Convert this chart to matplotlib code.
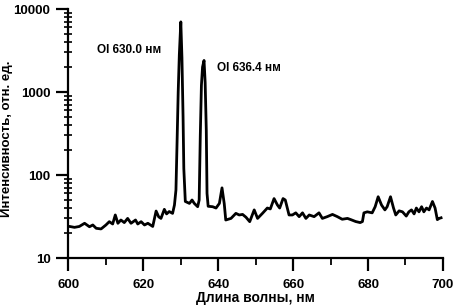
import numpy as np
import matplotlib
matplotlib.use('Agg')
from matplotlib import pyplot as plt
from matplotlib.ticker import LogLocator, FixedLocator, FuncFormatter, NullFormatter

# Спектр: длина волны (нм) и интенсивность (отн. ед.)
wl = [600.0, 600.3, 601.6, 602.9, 604.3, 605.6, 606.5, 607.4, 608.7, 610.0,
      610.9, 611.8, 612.5, 613.2, 614.0, 614.9, 615.8, 616.7, 617.9, 618.5,
      619.4, 620.3, 621.2, 622.5, 623.4, 624.1, 624.7, 625.6, 626.2, 626.9,
      627.8, 628.3, 628.7, 629.0, 629.3, 629.6, 630.0, 630.3, 630.6, 630.8,
      631.2, 632.3, 633.0, 633.6, 634.5, 634.9, 635.2, 635.5, 635.8, 636.2,
      636.5, 636.8, 637.0, 637.3, 638.5, 639.4, 640.3, 641.0, 641.6, 642.0,
      643.4, 644.7, 645.6, 646.5, 647.4, 648.4, 649.6, 650.5, 651.8, 653.1,
      653.9, 654.9, 655.8, 656.4, 657.3, 657.9, 658.9, 659.8, 660.7, 661.6,
      662.5, 663.4, 664.3, 665.6, 666.9, 667.8, 669.1, 670.5, 671.8, 673.1,
      674.5, 675.4, 676.7, 677.9, 678.5, 678.9, 679.8, 681.1, 681.9, 682.7,
      683.6, 684.5, 685.1, 686.0, 686.8, 687.4, 688.3, 689.2, 690.2, 690.9,
      691.6, 692.3, 692.9, 693.6, 694.3, 694.9, 695.6, 696.3, 697.2, 697.9,
      698.5, 699.0, 699.5]
intensity = [24, 24, 23.4, 24, 26.2, 23.8, 25, 22.8, 22.4, 25,
             27.4, 25.7, 33, 26.2, 28.7, 26.7, 30, 26.2, 28.7, 25.7,
             27.4, 25, 26.2, 24, 36.8, 31.3, 30, 38.6, 34, 36.3,
             34.5, 43.5, 66, 250, 1000, 2800, 7000, 2600, 500, 120,
             48, 45.5, 50, 45.5, 41.5, 50, 300, 1200, 2000, 2400,
             1300, 350, 60, 42, 41.5, 40, 45.5, 70, 45, 28.7,
             30, 34.5, 33, 33.5, 31, 27.4, 38, 30, 34.5, 40,
             39, 52, 43.5, 40, 52, 50, 33, 33, 35, 31.5,
             35, 30, 33, 31.5, 35, 30, 31.5, 33.5, 31.5, 29.3,
             30, 29, 27.5, 26.7, 27.5, 35, 36, 35, 41.5, 54.7,
             43.5, 38, 41.5, 54.7, 40, 33, 37, 36, 32, 36,
             38, 34, 40, 36, 41.5, 36, 40, 38, 48, 40,
             29, 30, 30.5]

x_ticks = [600, 620, 640, 660, 680, 700]
y_ticks = [10, 100, 1000, 10000]
lines_labels = [('OI 630.0 нм', 607.7, 3200), ('OI 636.4 нм', 639.7, 1950)]

plt.rcParams['font.family'] = ['Liberation Sans', 'DejaVu Sans']
plt.rcParams['font.weight'] = 'bold'

fig = plt.figure(figsize=(4.55, 3.07), dpi=100)
ax = fig.add_axes([0.1505, 0.1596, 0.823, 0.811])
ax.plot(wl, intensity, color='black', lw=2)

ax.set_yscale('log')
ax.set_xlim(600, 700)
ax.set_ylim(10, 10000)
ax.xaxis.set_major_locator(FixedLocator(x_ticks))
ax.xaxis.set_minor_locator(FixedLocator([610, 630, 650, 670, 690]))
ax.yaxis.set_major_locator(FixedLocator(y_ticks))
ax.yaxis.set_minor_locator(LogLocator(base=10, subs=np.arange(2, 10)))
ax.yaxis.set_major_formatter(FuncFormatter(lambda v, p: '%d' % v))
ax.yaxis.set_minor_formatter(NullFormatter())

for s in ['top', 'right']:
    ax.spines[s].set_visible(False)
for s in ['left', 'bottom']:
    ax.spines[s].set_linewidth(1.6)
ax.tick_params(which='major', direction='out', length=9, width=1.6, labelsize=9.5, pad=4)
ax.tick_params(axis='x', which='minor', direction='out', length=5, width=1.3)
ax.tick_params(axis='y', which='minor', direction='inout', length=6, width=1.2)
ax.tick_params(axis='x', which='major', pad=6)

for txt, x, y in lines_labels:
    ax.text(x, y, txt, fontsize=8.5, fontweight='bold', va='center', ha='left')

ax.set_xlabel('Длина волны, нм', fontsize=10, fontweight='bold', labelpad=0)
ax.set_ylabel('Интенсивность, отн. ед.', fontsize=9.5, fontweight='bold')
ax.yaxis.set_label_coords(-0.148, 0.48)

fig.savefig('out.png', dpi=100)
